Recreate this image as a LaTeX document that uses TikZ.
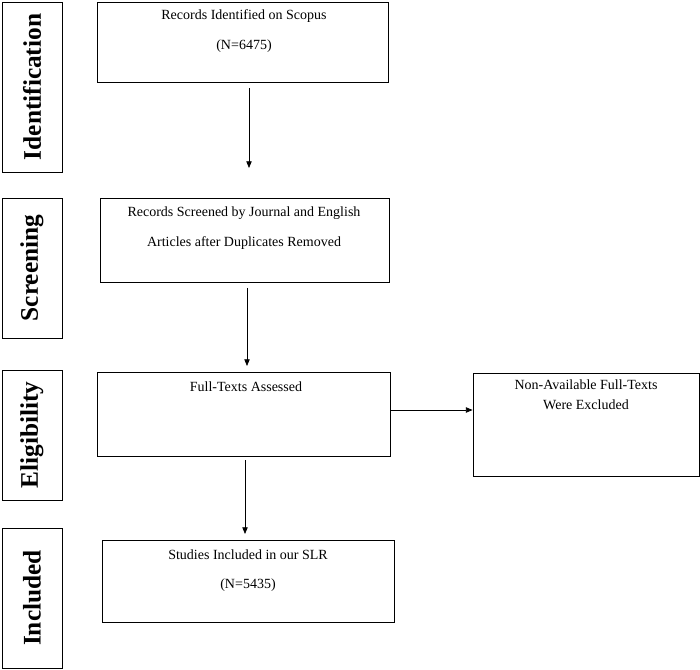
\documentclass[tikz,border=0pt]{standalone}
\usepackage{fontspec}
\setmainfont{Liberation Serif}
\usetikzlibrary{arrows.meta,positioning}
\tikzset{
  box/.style={draw=black, line width=0.6pt, inner sep=0pt},
  stage/.style={draw=black, line width=0.6pt, inner sep=0pt},
  stagetext/.style={rotate=90, font=\fontsize{19}{22}\selectfont\bfseries},
  boxtext/.style={font=\fontsize{10.5}{12}\selectfont, anchor=center},
  flow/.style={-{Triangle[length=5pt,width=4pt]}, line width=0.6pt}
}
\begin{document}
\begin{tikzpicture}[x=0.75pt, y=-0.75pt]
\useasboundingbox (0,0) rectangle (700,670);
% stage boxes
\node[stage, minimum width=60*0.75pt, minimum height=170*0.75pt] (ident) at (32,87) {};
\node[stagetext] at (ident) {Identification};
\node[stage, minimum width=60*0.75pt, minimum height=140*0.75pt] (screen) at (32,268) {};
\node[stagetext] at (screen) {Screening};
\node[stage, minimum width=60*0.75pt, minimum height=130*0.75pt] (elig) at (32,435) {};
\node[stagetext] at (elig) {Eligibility};
\node[stage, minimum width=60*0.75pt, minimum height=140*0.75pt] (incl) at (32,598) {};
\node[stagetext] at (incl) {Included};
% flow boxes
\node[box, minimum width=291*0.75pt, minimum height=80*0.75pt] (records) at (242.5,42) {};
\node[boxtext] (recordsA) at (244,16) {Records Identified on Scopus};
\node[boxtext] (recordsB) at (244,46) {(N=6475)};
\node[box, minimum width=289*0.75pt, minimum height=84*0.75pt] (screened) at (244.5,240) {};
\node[boxtext] (screenedA) at (244,213) {Records Screened by Journal and English};
\node[boxtext] (screenedB) at (244,243) {Articles after Duplicates Removed};
\node[box, minimum width=293*0.75pt, minimum height=84*0.75pt] (full) at (243.5,414) {};
\node[boxtext] (fullA) at (246,387) {Full-Texts Assessed};
\node[box, minimum width=226*0.75pt, minimum height=103*0.75pt] (excl) at (586,424.5) {};
\node[boxtext] (exclA) at (586,385) {Non-Available Full-Texts};
\node[boxtext] (exclB) at (586,405) {Were Excluded};
\node[box, minimum width=292*0.75pt, minimum height=82*0.75pt] (studies) at (248,581) {};
\node[boxtext] (studiesA) at (248,555) {Studies Included in our SLR};
\node[boxtext] (studiesB) at (248,585) {(N=5435)};
% connectors
\coordinate (a1) at (249,88);
\coordinate (a2) at (249,168);
\draw[flow] (a1) -- (a2);
\coordinate (b1) at (247,288);
\coordinate (b2) at (247,366);
\draw[flow] (b1) -- (b2);
\coordinate (c1) at (245,460);
\coordinate (c2) at (245,534);
\draw[flow] (c1) -- (c2);
\draw[flow] (full.east |- 0,410) -- (excl.west |- 0,410);
\end{tikzpicture}
\end{document}
